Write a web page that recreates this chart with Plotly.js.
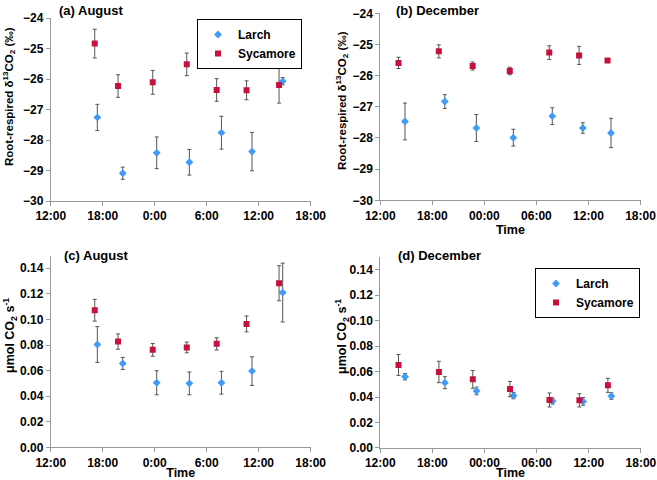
<!DOCTYPE html>
<html><head><meta charset="utf-8">
<script src="https://cdn.plot.ly/plotly-3.0.1.min.js"></script>
<style>html,body{margin:0;padding:0;background:#fff}#c{width:657px;height:480px}</style>
</head><body><div id="c"></div>
<script>
// x = hours since 12:00 on day 1
const augSycX = [5.08, 7.77, 11.77, 15.7, 19.15, 22.6, 26.35];
const augLarX = [5.38, 8.31, 12.23, 16.0, 19.7, 23.23, 26.77];
const decSycX = [2.1, 6.75, 10.65, 14.93, 19.48, 22.92, 26.2];
const decLarX = [2.85, 7.44, 11.08, 15.34, 19.83, 23.35, 26.6];

const aSyc = [-24.84, -26.23, -26.11, -25.52, -26.36, -26.37, -26.2];
const aSycErr = [0.47, 0.37, 0.39, 0.37, 0.37, 0.31, 0.59];
const aLar = [-27.26, -29.09, -28.42, -28.73, -27.76, -28.38, -26.07];
const aLarErr = [0.43, 0.2, 0.52, 0.42, 0.54, 0.63, 0.12];

const bSyc = [-25.59, -25.22, -25.69, -25.85, -25.26, -25.35, -25.51];
const bSycErr = [0.18, 0.21, 0.13, 0.12, 0.22, 0.29, 0.06];
const bLar = [-27.47, -26.83, -27.68, -27.99, -27.3, -27.68, -27.84];
const bLarErr = [0.59, 0.22, 0.43, 0.27, 0.27, 0.17, 0.47];

const cSyc = [0.1072, 0.0827, 0.0762, 0.0781, 0.0809, 0.0965, 0.1283];
const cSycErr = [0.0085, 0.006, 0.005, 0.0042, 0.0048, 0.0062, 0.0137];
const cLar = [0.0804, 0.0656, 0.0505, 0.050, 0.0505, 0.0596, 0.121];
const cLarErr = [0.014, 0.0047, 0.0094, 0.0089, 0.0089, 0.0112, 0.023];

const dSyc = [0.0652, 0.0597, 0.0539, 0.0463, 0.0377, 0.0374, 0.0492];
const dSycErr = [0.0082, 0.0084, 0.007, 0.006, 0.0055, 0.0052, 0.0055];
const dLar = [0.056, 0.0513, 0.0448, 0.0411, 0.0369, 0.0366, 0.0408];
const dLarErr = [0.0025, 0.0047, 0.003, 0.0024, 0.0024, 0.003, 0.0026];

const tickVals = [0, 6, 12, 18, 24, 30];
const tickAug = ['12:00', '18:00', '0:00', '6:00', '12:00', '18:00'];
const tickDec = ['12:00', '18:00', '00:00', '06:00', '12:00', '18:00'];

const larColor = '#3f9bf5', sycColor = '#c8103c';
function tr(x, y, e, name, xa, ya, show, leg) {
  const lar = name === 'Larch';
  const t = {
    x: x, y: y, type: 'scatter', mode: 'markers', name: name,
    xaxis: xa, yaxis: ya, showlegend: show,
    marker: lar ? {symbol: 'diamond', size: 6, color: larColor}
                : {symbol: 'square', size: 6, color: sycColor},
    error_y: {type: 'data', array: e, visible: true, color: '#555', thickness: 1, width: 2}
  };
  if (leg) t.legend = leg;
  return t;
}
const data = [
  tr(augLarX, aLar, aLarErr, 'Larch', 'x', 'y', true),
  tr(augSycX, aSyc, aSycErr, 'Sycamore', 'x', 'y', true),
  tr(decLarX, bLar, bLarErr, 'Larch', 'x2', 'y2', false),
  tr(decSycX, bSyc, bSycErr, 'Sycamore', 'x2', 'y2', false),
  tr(augLarX, cLar, cLarErr, 'Larch', 'x3', 'y3', false),
  tr(augSycX, cSyc, cSycErr, 'Sycamore', 'x3', 'y3', false),
  tr(decLarX, dLar, dLarErr, 'Larch', 'x4', 'y4', true, 'legend2'),
  tr(decSycX, dSyc, dSycErr, 'Sycamore', 'x4', 'y4', true, 'legend2')
];

const F = 'Liberation Sans, Arial, sans-serif';
function xax(dom, anchor, ticks, title) {
  const o = {domain: dom, anchor: anchor, range: [0, 30], tickvals: tickVals, ticktext: ticks,
    showgrid: false, zeroline: false, showline: true, linecolor: '#999', linewidth: 1,
    ticks: 'outside', ticklen: 4, tickcolor: '#999',
    tickfont: {family: F, size: 12, color: '#000', weight: 'bold'}, fixedrange: true};
  if (title) o.title = {text: '<b>Time</b>', font: {family: F, size: 12.5, color: '#000'}, standoff: 1};
  return o;
}
function yax(dom, anchor, range, dtick, fmt) {
  return {domain: dom, anchor: anchor, range: range, dtick: dtick, tick0: 0, tickformat: fmt,
    showgrid: false, zeroline: false, showline: true, linecolor: '#999', linewidth: 1,
    ticks: 'outside', ticklen: 4, tickcolor: '#999',
    tickfont: {family: F, size: 12, color: '#000', weight: 'bold'}, fixedrange: true};
}
const yT1 = '<b>Root-respired δ<sup>13</sup>CO<sub>2</sub> (‰)</b>';
const yT2 = '<b>μmol CO<sub>2</sub> s<sup>-1</sup></b>';
const legFont = {family: F, size: 12, color: '#000', weight: 'bold'};
function lab(text, px, py, size) {
  return {text: text, x: px/657, y: 1 - py/480, xref: 'paper', yref: 'paper', xanchor: 'left', yanchor: 'top',
    showarrow: false, font: {family: F, size: size, color: '#000'}};
}
function ytl(text, px, py, size) {
  return {text: text, x: px/657, y: 1 - py/480, xref: 'paper', yref: 'paper', xanchor: 'center', yanchor: 'middle',
    textangle: -90, showarrow: false, font: {family: F, size: size, color: '#000'}};
}
const layout = {
  width: 657, height: 480, margin: {l: 0, r: 0, t: 0, b: 0},
  paper_bgcolor: '#fff', plot_bgcolor: '#fff', showlegend: true,
  xaxis: xax([0.0772, 0.4729], 'y', tickAug, false),
  yaxis: yax([0.58125, 0.9625], 'x', [-30, -24], 1, 'd'),
  xaxis2: xax([0.5788, 0.9749], 'y2', tickDec, true),
  yaxis2: yax([0.5827, 0.9722], 'x2', [-30, -24], 1, 'd'),
  xaxis3: xax([0.0772, 0.4729], 'y3', tickAug, true),
  yaxis3: yax([0.0681, 0.4677], 'x3', [0, 0.15], 0.02, '.2f'),
  xaxis4: xax([0.5788, 0.9755], 'y4', tickDec, true),
  yaxis4: yax([0.0667, 0.4646], 'x4', [0, 0.15], 0.02, '.2f'),
  legend: {x: 302/657, y: 1 - 19/480, xanchor: 'right', yanchor: 'top', bgcolor: '#fff',
    bordercolor: '#000', borderwidth: 1, font: legFont, tracegroupgap: 0, itemwidth: 30},
  legend2: {x: 640/657, y: 1 - 268/480, xanchor: 'right', yanchor: 'top', bgcolor: '#fff',
    bordercolor: '#000', borderwidth: 1, font: legFont, tracegroupgap: 0, itemwidth: 30},
  annotations: [
    lab('<b>(a) August</b>', 57, 1, 13),
    lab('<b>(b) December</b>', 394, 1, 13),
    lab('<b>(c) August</b>', 62, 246, 13),
    lab('<b>(d) December</b>', 396, 246, 13),
    ytl(yT1, 9, 97, 11.5),
    ytl(yT1, 342, 101, 11.5),
    ytl(yT2, 10, 336, 12.5),
    ytl(yT2, 342, 337, 12.5)
  ]
};
Plotly.newPlot('c', data, layout, {displayModeBar: false, staticPlot: true});
</script></body></html>
